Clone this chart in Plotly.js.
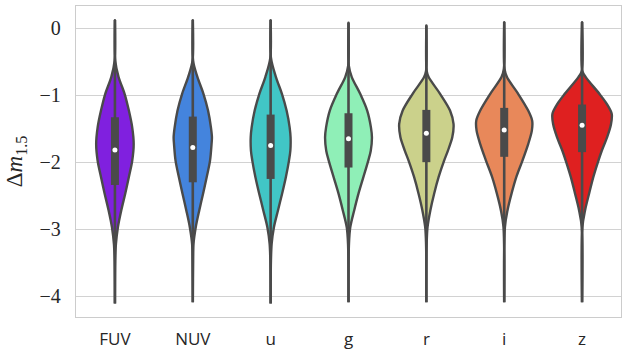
<!DOCTYPE html>
<html>
<head>
<meta charset="utf-8">
<script src="https://cdn.plot.ly/plotly-3.0.1.min.js"></script>
<style>
  html, body { margin: 0; padding: 0; background: #fff; }
  #chart { width: 622px; height: 353px; }
</style>
</head>
<body>
<div id="chart"></div>
<script>
// Photometric bands along the x axis
const bands = ["FUV", "NUV", "u", "g", "r", "i", "z"];
const bandColors = ["#8020df", "#4484dd", "#41c6c6", "#8fefb7", "#cbd18b", "#e8885a", "#df2020"];

// Violin profiles: magnitude offset levels and half-widths (in category units)
const fuvY = [0.12, -0.49, -0.73, -0.98, -1.23, -1.48, -1.73, -1.98, -2.22, -2.47, -2.72, -2.97, -3.22, -3.47, -4.11];
const fuvW = [0, 0.004, 0.047, 0.124, 0.179, 0.222, 0.241, 0.222, 0.179, 0.132, 0.081, 0.038, 0.013, 0.004, 0];
const nuvY = [0.12, -0.49, -0.73, -0.98, -1.23, -1.48, -1.63, -1.73, -1.98, -2.22, -2.47, -2.72, -2.97, -3.22, -3.47, -4.09];
const nuvW = [0, 0.004, 0.06, 0.137, 0.196, 0.233, 0.246, 0.241, 0.221, 0.179, 0.132, 0.083, 0.038, 0.009, 0.004, 0];
const uY = [0.12, -0.44, -0.73, -0.98, -1.23, -1.48, -1.63, -1.83, -1.98, -2.22, -2.47, -2.72, -2.97, -3.22, -3.47, -4.11];
const uW = [0, 0.004, 0.068, 0.145, 0.205, 0.244, 0.256, 0.253, 0.235, 0.196, 0.147, 0.094, 0.042, 0.013, 0.004, 0];
const gY = [0.08, -0.56, -0.73, -0.98, -1.23, -1.48, -1.63, -1.83, -1.98, -2.22, -2.47, -2.72, -2.97, -3.22, -4.09];
const gW = [0, 0.004, 0.042, 0.15, 0.24, 0.288, 0.301, 0.286, 0.253, 0.192, 0.128, 0.073, 0.023, 0.006, 0];
const rY = [0.04, -0.64, -0.73, -0.98, -1.23, -1.43, -1.63, -1.83, -1.98, -2.22, -2.47, -2.72, -2.97, -3.22, -4.09];
const rW = [0, 0.004, 0.029, 0.176, 0.304, 0.349, 0.333, 0.276, 0.227, 0.158, 0.1, 0.051, 0.015, 0.004, 0];
const iY = [0.09, -0.61, -0.73, -0.98, -1.23, -1.38, -1.53, -1.73, -1.98, -2.22, -2.47, -2.72, -2.97, -4.09];
const iW = [0, 0.004, 0.035, 0.179, 0.308, 0.359, 0.355, 0.308, 0.233, 0.156, 0.094, 0.042, 0.009, 0];
const zY = [0.09, -0.64, -0.73, -0.98, -1.13, -1.28, -1.43, -1.63, -1.83, -1.98, -2.22, -2.47, -2.72, -2.97, -4.09];
const zW = [0, 0.004, 0.047, 0.222, 0.317, 0.381, 0.372, 0.321, 0.253, 0.209, 0.145, 0.09, 0.038, 0.004, 0];

// Box summaries per band
const q3 = [-1.33, -1.32, -1.29, -1.27, -1.22, -1.19, -1.14];
const q1 = [-2.34, -2.30, -2.25, -2.08, -2.00, -1.92, -1.85];
const medians = [-1.82, -1.78, -1.75, -1.65, -1.57, -1.52, -1.45];
const whiskerHi = [0.12, 0.12, 0.12, 0.08, 0.04, 0.09, 0.09];
const whiskerLo = [-4.11, -4.09, -4.11, -4.09, -4.09, -4.09, -4.09];

// Y tick labels
const yTicks = [0, -1, -2, -3, -4];
const yTickText = ["0", "\u22121", "\u22122", "\u22123", "\u22124"];

const profiles = [[fuvY, fuvW], [nuvY, nuvW], [uY, uW], [gY, gW], [rY, rW], [iY, iW], [zY, zW]];
const edge = "#4a4a4a";
const traces = [];

profiles.forEach(([ys, ws], k) => {
  // right side top->bottom, then left side bottom->top
  const xs = [], yy = [];
  for (let j = 0; j < ys.length; j++) { xs.push(k + ws[j]); yy.push(ys[j]); }
  for (let j = ys.length - 1; j >= 0; j--) { xs.push(k - ws[j]); yy.push(ys[j]); }
  traces.push({
    type: "scatter", mode: "lines", x: xs, y: yy,
    fill: "toself", fillcolor: bandColors[k],
    line: { color: edge, width: 2.4, shape: "spline", smoothing: 0.9 },
    hoverinfo: "skip", showlegend: false
  });
});

bands.forEach((b, k) => {
  traces.push({
    type: "scatter", mode: "lines", x: [k, k], y: [whiskerHi[k], whiskerLo[k]],
    line: { color: edge, width: 2.6 }, hoverinfo: "skip", showlegend: false
  });
  traces.push({
    type: "scatter", mode: "lines", x: [k, k], y: [q3[k], q1[k]],
    line: { color: edge, width: 8 }, hoverinfo: "skip", showlegend: false
  });
});

traces.push({
  type: "scatter", mode: "markers", x: bands.map((b, k) => k), y: medians,
  marker: { color: "#ffffff", size: 5, line: { width: 0 } },
  hoverinfo: "skip", showlegend: false
});

const layout = {
  width: 622, height: 353,
  margin: { l: 76, r: 1, t: 6, b: 36 },
  paper_bgcolor: "#ffffff", plot_bgcolor: "#ffffff",
  showlegend: false,
  xaxis: {
    range: [-0.5, 6.5],
    tickvals: bands.map((b, k) => k), ticktext: bands,
    showgrid: false, zeroline: false,
    showline: true, mirror: true, linecolor: "#cccccc", linewidth: 1.2,
    ticks: "", ticklen: 0, ticklabelstandoff: 6,
    tickfont: { family: "Open Sans", size: 17, color: "#262626" }
  },
  yaxis: {
    range: [-4.31, 0.33],
    tickvals: yTicks, ticktext: yTickText,
    showgrid: true, gridcolor: "#d2d2d2", gridwidth: 1.2,
    zeroline: false,
    showline: true, mirror: true, linecolor: "#cccccc", linewidth: 1.2,
    ticks: "", ticklabelstandoff: 10,
    tickfont: { family: "Liberation Serif", size: 20, color: "#262626" },
    title: { text: "\u0394<i>m</i><sub>1.5</sub>", standoff: 10,
             font: { family: "Liberation Serif", size: 23, color: "#262626" } }
  }
};

Plotly.newPlot("chart", traces, layout, { displayModeBar: false, staticPlot: true });
</script>
</body>
</html>
